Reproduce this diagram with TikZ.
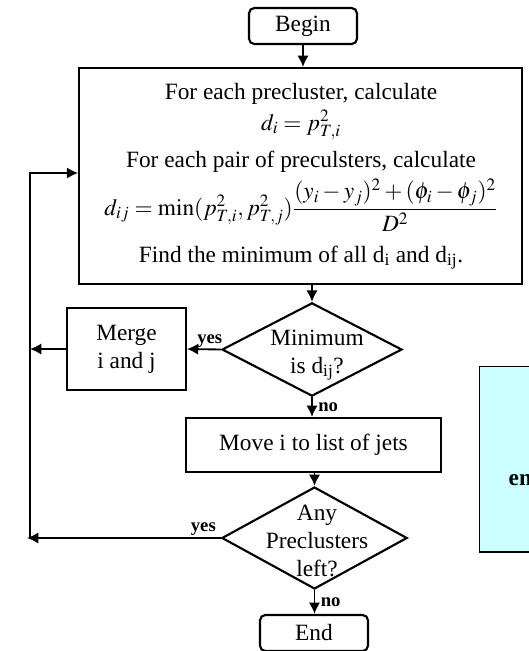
\documentclass[tikz,border=0pt]{standalone}
\usepackage{amsmath}
\usepackage{mathptmx}
\usepackage{fontspec}
\setmainfont{Liberation Serif}
\usetikzlibrary{shapes.geometric,arrows.meta,positioning}
\definecolor{notecyan}{RGB}{204,255,255}
\tikzset{
  term/.style={draw,line width=1.6pt,rounded corners=4pt,minimum width=81pt,minimum height=27pt,inner sep=0pt},
  proc/.style={draw,line width=1.6pt,inner sep=0pt},
  decision/.style={diamond,draw,line width=1.6pt,inner sep=0pt},
  flow/.style={line width=1.4pt,-{Latex[length=8.5pt,width=8.5pt]}},
  ans/.style={font=\fontsize{14}{16}\selectfont\bfseries,inner sep=1pt},
}

\begin{document}
\begin{tikzpicture}[x=0.75pt,y=-0.75pt,
  every node/.style={font=\fontsize{17.5}{21}\selectfont}]
\clip (0,0) rectangle (529,651);

\node[term] (begin) at (303,26) {Begin};
\node[proc,minimum width=332pt,minimum height=162pt] (calc) at (300.5,176) {};
\node[anchor=base] (calcA) at (301,99) {For each precluster, calculate};
\node[anchor=base] (calcB) at (301,130) {$d_i = p_{T,i}^2$};
\node[anchor=base] (calcC) at (301,167) {For each pair of preculsters, calculate};
\node[anchor=base] (calcD) at (301,215) {$d_{ij} = \min(p_{T,i}^2, p_{T,j}^2)\dfrac{(y_i-y_j)^2+(\phi_i-\phi_j)^2}{D^2}$};
\node[anchor=base] (calcE) at (301,262) {Find the minimum of all d\textsubscript{i} and d\textsubscript{ij}.};

\node[decision,minimum width=135pt,minimum height=70pt] (dec1) at (312,349.5) {};
\node[align=center] (dec1txt) at (317,355) {Minimum\\is d\textsubscript{ij}?};
\node[proc,minimum width=89pt,minimum height=61.5pt,align=center] (merge) at (126.5,349) {Merge\\i and j};
\node[proc,minimum width=191pt,minimum height=40.5pt] (move) at (313.5,445) {Move i to list of jets};
\node[decision,minimum width=139pt,minimum height=76.5pt] (dec2) at (314.5,538) {};
\node[align=center] (dec2txt) at (317,541) {Any\\Preclusters\\left?};
\node[term] (end) at (314,633) {End};

% side note, cut off at the right
\node[draw,line width=1pt,fill=notecyan,anchor=north west,minimum width=150pt,minimum height=139pt] (note) at (479,366) {};
\node[anchor=base west,font=\fontsize{17.5}{21}\selectfont\bfseries] (notetxt) at (504,485) {en};

% loop back
\coordinate (loopA) at (30,349);
\coordinate (loopB) at (27,538);
\coordinate (loopbot) at (30,538);
\coordinate (looptop) at (30,173);

\draw[flow] (begin.south) -- (begin.south |- calc.north);
\draw[flow] (dec1.north |- calc.south) -- (dec1.north);
\draw[flow] (dec1.west) -- node[ans,above,pos=0.33] {yes} (merge.east);
\draw[flow] (merge.west) -- (loopA);
\draw[flow] (dec1.south) -- node[ans,right=3pt] {no} (dec1.south |- move.north);
\draw[flow] (dec2.north |- move.south) -- (dec2.north);
\draw[flow] (dec2.west) -- node[ans,above,pos=0.09] {yes} (loopB);
\draw[flow] (dec2.south) -- node[ans,right=3pt] {no} (dec2.south |- end.north);
\draw[flow] (loopbot) -- (looptop) -- (calc.west |- looptop);
\end{tikzpicture}
\end{document}
